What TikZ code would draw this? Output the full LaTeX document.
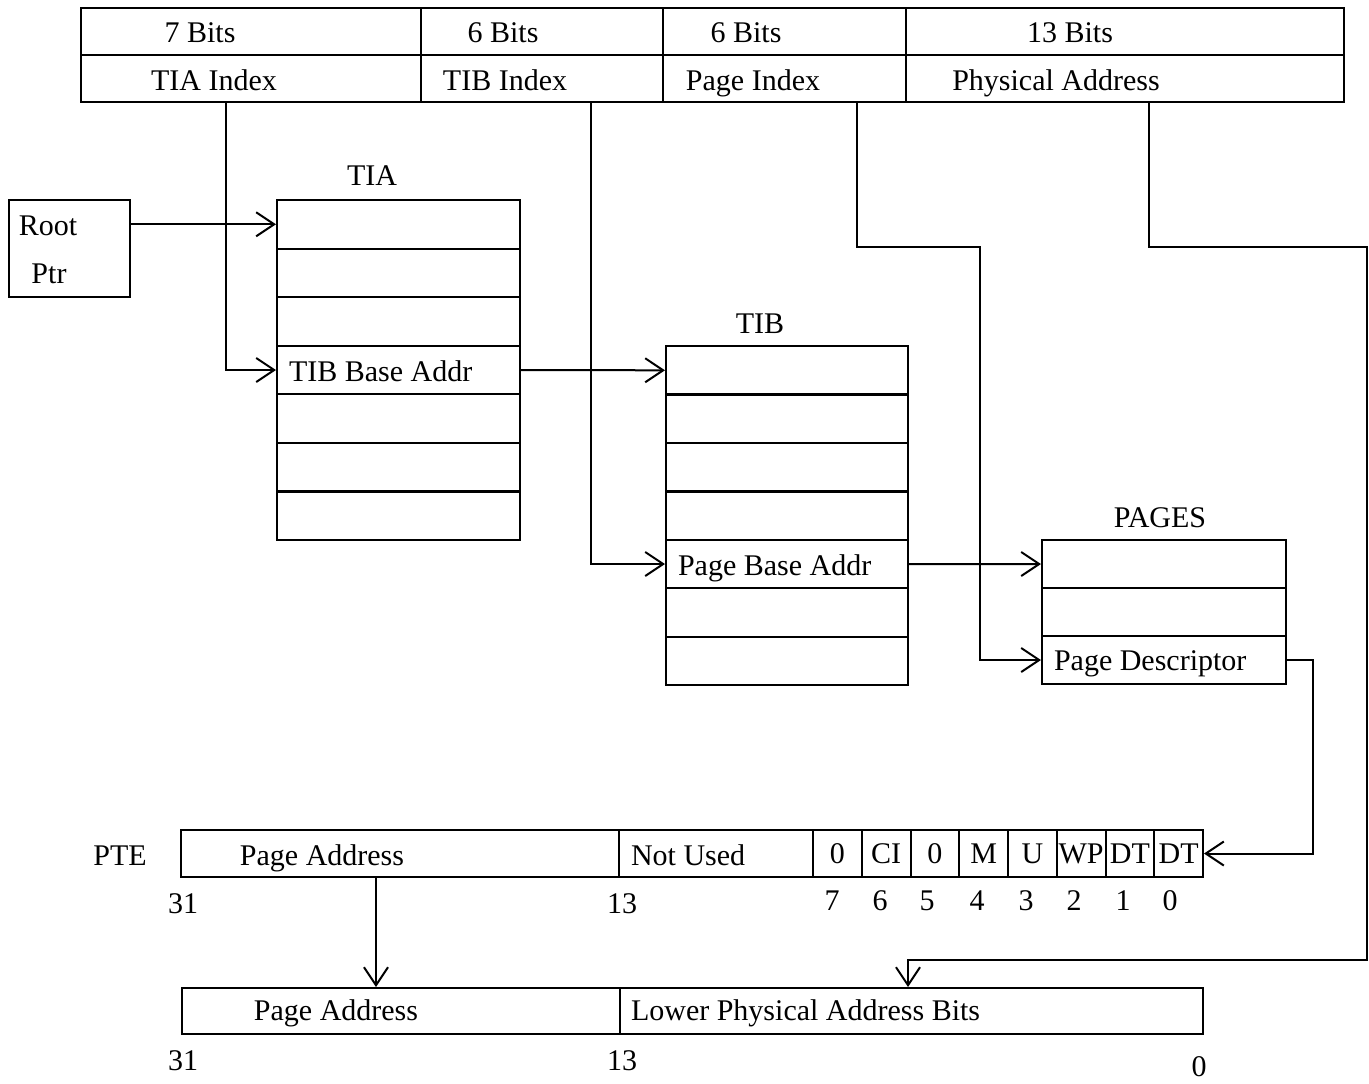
\documentclass[tikz,border=0pt]{standalone}
\usepackage{fontspec}
\setmainfont{Liberation Serif}
\usepackage{tikz}
\usetikzlibrary{arrows.meta}

\begin{document}
\begin{tikzpicture}[x=0.5pt, y=-0.5pt, line width=1pt,
		every node/.style={font=\fontsize{15}{18}\selectfont},
		box/.style={draw, inner sep=0pt, anchor=north west},
		row/.style={box, minimum height=24.3pt},
		txt/.style={inner sep=0pt, anchor=base},
		txtl/.style={inner sep=0pt, anchor=base west},
		ptr/.style={-{Straight Barb[length=9pt, width=12pt]}}]
				\useasboundingbox (0,0) rectangle (1369,1083);
				
				%Virtual address
				\node[box, minimum width=170pt, minimum height=23.5pt] (tiabits) at (80,7) {};
				\node[box, minimum width=121pt, minimum height=23.5pt] (tibbits) at (420,7) {};
				\node[box, minimum width=121.5pt, minimum height=23.5pt] (pagebits) at (662,7) {};
				\node[box, minimum width=219pt, minimum height=23.5pt] (physbits) at (905,7) {};
				\node[box, minimum width=170pt, minimum height=23.5pt] (tiaidx) at (80,54) {};
				\node[box, minimum width=121pt, minimum height=23.5pt] (tibidx) at (420,54) {};
				\node[box, minimum width=121.5pt, minimum height=23.5pt] (pageidx) at (662,54) {};
				\node[box, minimum width=219pt, minimum height=23.5pt] (physidx) at (905,54) {};
				\node[txt] (t1) at (200,42) {7 Bits};
				\node[txt] (t2) at (503,42) {6 Bits};
				\node[txt] (t3) at (746,42) {6 Bits};
				\node[txt] (t4) at (1070,42) {13 Bits};
				\node[txt] (t5) at (214,90) {TIA Index};
				\node[txt] (t6) at (505,90) {TIB Index};
				\node[txt] (t7) at (753,90) {Page Index};
				\node[txt] (t8) at (1056,90) {Physical Address};
				
				%Root pointer
				\node[box, minimum width=60.5pt, minimum height=48.5pt] (root) at (8,199) {};
				\node[txt] (rt1) at (48,235) {Root};
				\node[txt] (rt2) at (49,283) {Ptr};
				
				%TIA
				\node[txt] (tiatitle) at (372,185) {TIA};
				\node[row, minimum width=121.5pt] (tia1) at (276,199) {};
				\node[row, minimum width=121.5pt] (tia2) at (276,247.6) {};
				\node[row, minimum width=121.5pt] (tia3) at (276,296.1) {};
				\node[row, minimum width=121.5pt] (tia4) at (276,344.7) {};
				\node[row, minimum width=121.5pt] (tia5) at (276,393.3) {};
				\node[row, minimum width=121.5pt] (tia6) at (276,441.9) {};
				\node[row, minimum width=121.5pt] (tia7) at (276,490.4) {};
				\node[txtl] (tiatxt) at (288,381) {TIB Base Addr};
				
				%TIB
				\node[txt] (tibtitle) at (760,333) {TIB};
				\node[row, minimum width=121pt] (tib1) at (665,345) {};
				\node[row, minimum width=121pt] (tib2) at (665,393.4) {};
				\node[row, minimum width=121pt] (tib3) at (665,441.9) {};
				\node[row, minimum width=121pt] (tib4) at (665,490.3) {};
				\node[row, minimum width=121pt] (tib5) at (665,538.7) {};
				\node[row, minimum width=121pt] (tib6) at (665,587.1) {};
				\node[row, minimum width=121pt] (tib7) at (665,635.6) {};
				\node[txtl] (tibtxt) at (677,575) {Page Base Addr};
				
				%Pages
				\node[txt] (pagestitle) at (1160,527) {PAGES};
				\node[row, minimum width=122pt, minimum height=24pt] (pages1) at (1041,539) {};
				\node[row, minimum width=122pt, minimum height=24pt] (pages2) at (1041,587) {};
				\node[row, minimum width=122pt, minimum height=24pt] (pages3) at (1041,635) {};
				\node[txtl] (pagestxt) at (1053,670) {Page Descriptor};
				
				%PTE
				\node[txt] (pte) at (120,865) {PTE};
				\node[box, minimum width=219pt, minimum height=23.5pt] (pteaddr) at (180,829) {};
				\node[box, minimum width=97pt, minimum height=23.5pt] (notused) at (618,829) {};
				\node[box, minimum width=24.375pt, minimum height=23.5pt] (bit7) at (812,829) {0};
				\node[box, minimum width=24.375pt, minimum height=23.5pt] (bit6) at (860.75,829) {CI};
				\node[box, minimum width=24.375pt, minimum height=23.5pt] (bit5) at (909.5,829) {0};
				\node[box, minimum width=24.375pt, minimum height=23.5pt] (bit4) at (958.25,829) {M};
				\node[box, minimum width=24.375pt, minimum height=23.5pt] (bit3) at (1007,829) {U};
				\node[box, minimum width=24.375pt, minimum height=23.5pt] (bit2) at (1055.75,829) {WP};
				\node[box, minimum width=24.375pt, minimum height=23.5pt] (bit1) at (1104.5,829) {DT};
				\node[box, minimum width=24.375pt, minimum height=23.5pt] (bit0) at (1153.25,829) {DT};
				\node[txt] (pteaddrtxt) at (322,865) {Page Address};
				\node[txtl] (notusedtxt) at (630,865) {Not Used};
				\node[txt] (n31) at (183,913) {31};
				\node[txt] (n13) at (622,913) {13};
				\node[txt] (n7) at (832,910) {7};
				\node[txt] (n6) at (880,910) {6};
				\node[txt] (n5) at (927,910) {5};
				\node[txt] (n4) at (977,910) {4};
				\node[txt] (n3) at (1026,910) {3};
				\node[txt] (n2) at (1074,910) {2};
				\node[txt] (n1) at (1123,910) {1};
				\node[txt] (n0) at (1170,910) {0};
				
				%Physical address
				\node[box, minimum width=219pt, minimum height=23pt] (lowaddr) at (181,987) {};
				\node[box, minimum width=291.5pt, minimum height=23pt] (lowbits) at (619,987) {};
				\node[txt] (lowaddrtxt) at (336,1020) {Page Address};
				\node[txtl] (lowbitstxt) at (630,1020) {Lower Physical Address Bits};
				\node[txt] (m31) at (183,1070) {31};
				\node[txt] (m13) at (622,1070) {13};
				\node[txt] (m0) at (1199,1076) {0};
				
				%Lines
				\coordinate (pbend) at (980,247);
				\coordinate (pa1) at (1367,247);
				\coordinate (pa2) at (908,960);
				\coordinate (pd) at ([xshift=13pt]pages3.east);
				\draw[ptr] (root.east |- tia1.west) -- (tia1.west);
				\draw[ptr] ([xshift=73pt]tiaidx.south west) |- (tia4.west);
				\draw[ptr] (tia4.east) -- (tib1.west);
				\draw[ptr] ([xshift=85.5pt]tibidx.south west) |- (tib5.west);
				\draw[ptr] (tib5.east) -- (pages1.west);
				\draw[ptr] ([xshift=97.5pt]pageidx.south west) |- (pbend) |- (pages3.west);
				\draw[ptr] ([xshift=122pt]physidx.south west) |- (pa1) |- (pa2) -- (pa2 |- lowbits.north);
				\draw[ptr] (pages3.east) -- (pd) |- (bit0.east);
				\draw[ptr] ([xshift=98pt]pteaddr.south west) coordinate (pp) -- (pp |- lowaddr.north);
			\end{tikzpicture}
\end{document}
